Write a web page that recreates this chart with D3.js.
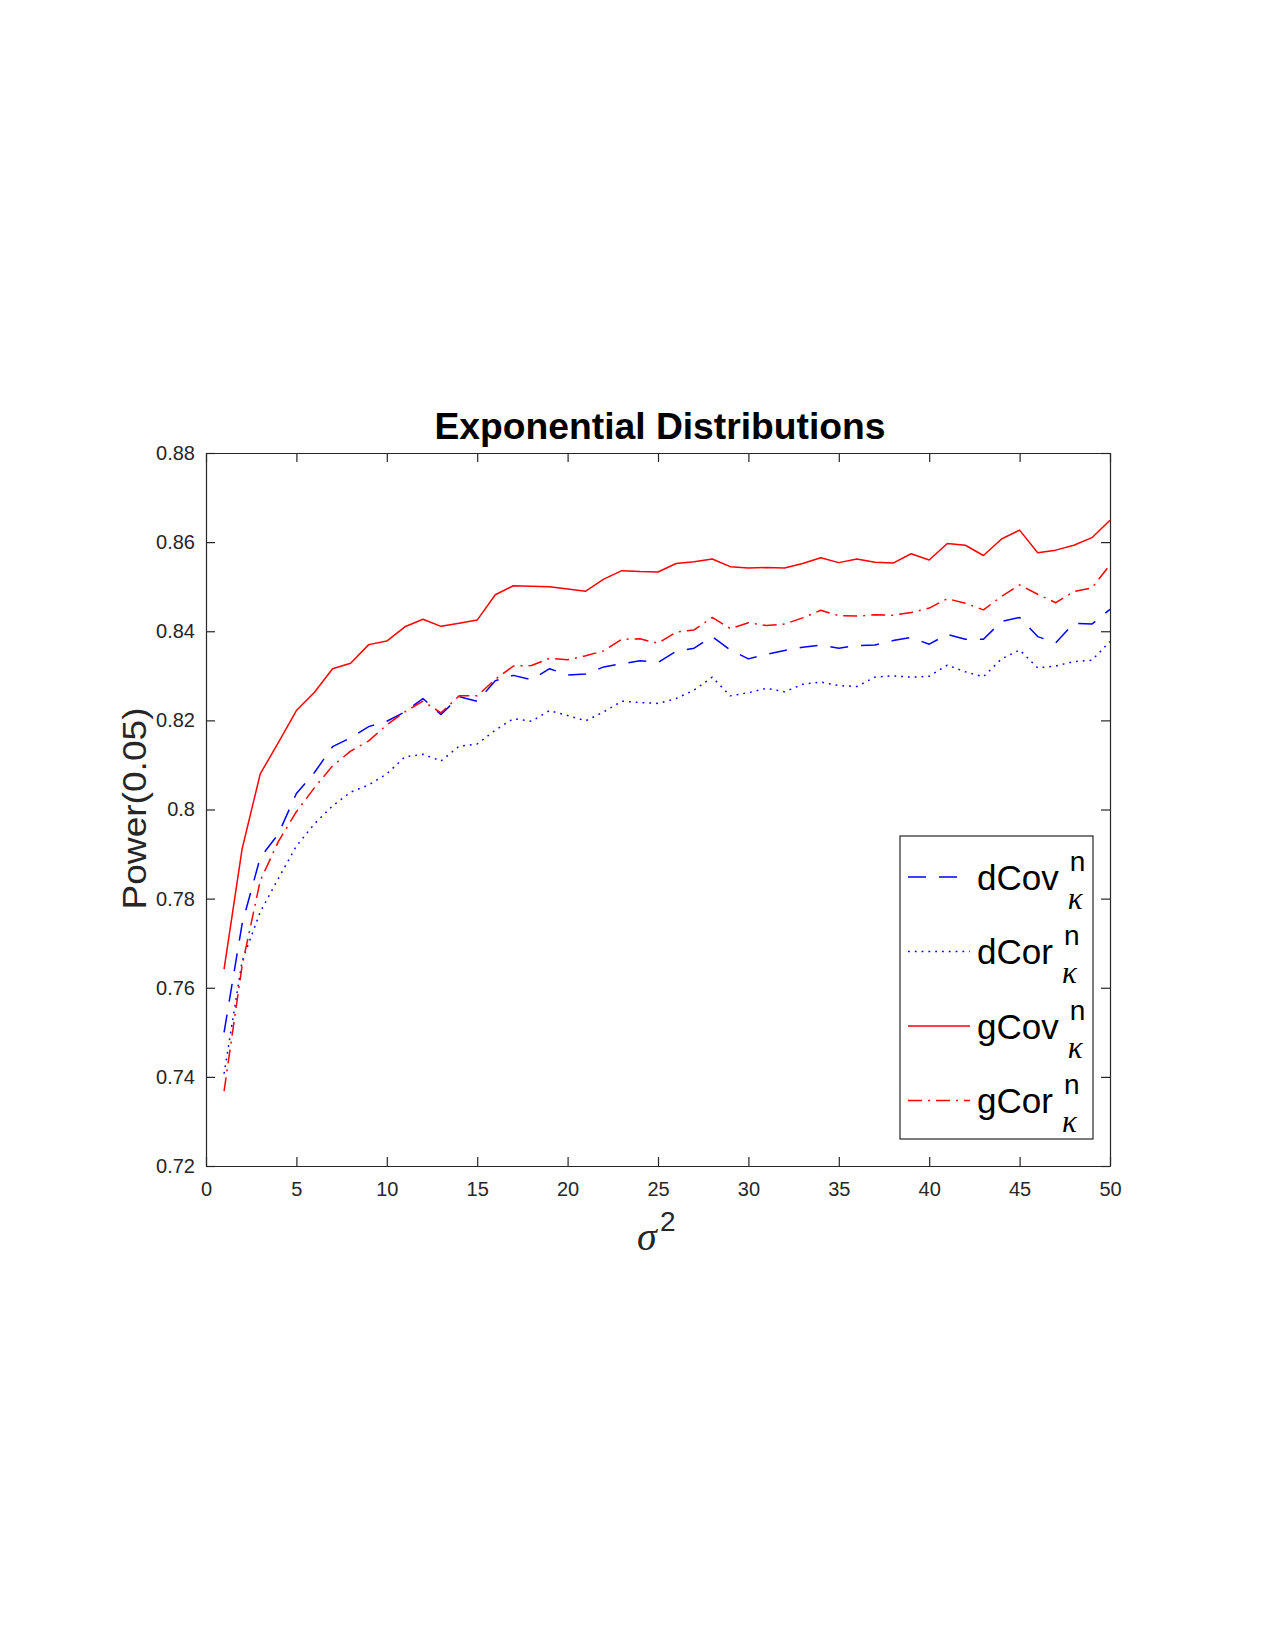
<!DOCTYPE html>
<html>
<head>
<meta charset="utf-8">
<script src="https://cdn.jsdelivr.net/npm/d3@7"></script>
<style>
  html, body { margin: 0; padding: 0; background: #fff; }
  svg { display: block; }
  text { font-family: "Liberation Sans", Arial, Helvetica, sans-serif; }
</style>
</head>
<body>
<svg id="chart" width="1275" height="1650"></svg>
<script>
// ---------------- DATA ----------------
const sigma2 = d3.range(1, 51);
const dCov = [0.7500,0.7744,0.7892,0.7945,0.8036,0.8083,0.8141,0.8161,0.8186,0.8198,
              0.8219,0.8249,0.8213,0.8253,0.8243,0.8289,0.8301,0.8291,0.8316,0.8302,
              0.8304,0.8320,0.8327,0.8334,0.8330,0.8355,0.8362,0.8388,0.8358,0.8338,
              0.8348,0.8357,0.8364,0.8369,0.8362,0.8368,0.8369,0.8379,0.8386,0.8371,
              0.8393,0.8382,0.8382,0.8422,0.8431,0.8388,0.8374,0.8418,0.8416,0.8449];
const dCor = [0.7407,0.7660,0.7770,0.7845,0.7918,0.7968,0.8008,0.8039,0.8055,0.8080,
              0.8118,0.8124,0.8109,0.8142,0.8147,0.8178,0.8204,0.8198,0.8222,0.8211,
              0.8199,0.8219,0.8243,0.8240,0.8238,0.8249,0.8268,0.8297,0.8255,0.8262,
              0.8272,0.8264,0.8281,0.8286,0.8278,0.8276,0.8297,0.8300,0.8297,0.8299,
              0.8324,0.8309,0.8298,0.8338,0.8358,0.8318,0.8322,0.8332,0.8335,0.8377];
const gCov = [0.7642,0.7912,0.8080,0.8150,0.8222,0.8263,0.8316,0.8328,0.8370,0.8378,
              0.8410,0.8427,0.8411,0.8418,0.8425,0.8482,0.8502,0.8501,0.8500,0.8495,
              0.8490,0.8517,0.8536,0.8534,0.8533,0.8552,0.8556,0.8562,0.8545,0.8542,
              0.8543,0.8542,0.8552,0.8565,0.8554,0.8562,0.8555,0.8553,0.8574,0.8560,
              0.8597,0.8593,0.8570,0.8607,0.8627,0.8576,0.8582,0.8593,0.8610,0.8649];
const gCor = [0.7368,0.7650,0.7840,0.7928,0.7995,0.8049,0.8098,0.8131,0.8154,0.8190,
              0.8219,0.8243,0.8217,0.8255,0.8255,0.8292,0.8322,0.8323,0.8339,0.8336,
              0.8345,0.8356,0.8382,0.8383,0.8373,0.8398,0.8403,0.8431,0.8406,0.8419,
              0.8413,0.8416,0.8430,0.8447,0.8435,0.8434,0.8437,0.8436,0.8442,0.8452,
              0.8473,0.8463,0.8448,0.8478,0.8504,0.8483,0.8464,0.8489,0.8497,0.8549];
const seriesNames = ["dCov", "dCor", "gCov", "gCor"];
const xTicks = [0,5,10,15,20,25,30,35,40,45,50];
const yTicks = [0.72,0.74,0.76,0.78,0.80,0.82,0.84,0.86,0.88];
const yTickLabels = ["0.72","0.74","0.76","0.78","0.8","0.82","0.84","0.86","0.88"];
const titleText = "Exponential Distributions";
const yLabelText = "Power(0.05)";

// ---------------- STYLE / LAYOUT ----------------
const seriesValues = [dCov, dCor, gCov, gCor];
const seriesColor = ["#0000ff", "#0000ff", "#ff0000", "#ff0000"];
const seriesDash = ["18,13", "1.8,5", null, "14,6,2,6"];
const axisColor = "#262626";

const L = 206, R = 1110, T = 453, B = 1166;
const svg = d3.select("#chart");

const x = d3.scaleLinear().domain([0, 50]).range([L, R]);
const y = d3.scaleLinear().domain([0.72, 0.88]).range([B, T]);

// ---------------- AXES ----------------
function styleAxis(g) {
  g.selectAll("path.domain").attr("stroke", axisColor).attr("stroke-width", 1.2);
  g.selectAll(".tick line").attr("stroke", axisColor).attr("stroke-width", 1.2);
  g.selectAll("text").attr("fill", axisColor)
    .style("font-family", '"Liberation Sans", Arial, sans-serif')
    .style("font-size", "20px");
}

svg.append("g").attr("transform", `translate(0,${B})`)
  .call(d3.axisBottom(x).tickValues(xTicks).tickFormat(d3.format("d"))
        .tickSizeInner(-9).tickSizeOuter(0).tickPadding(16))
  .call(styleAxis);

svg.append("g").attr("transform", `translate(0,${T})`)
  .call(d3.axisTop(x).tickValues(xTicks).tickFormat("")
        .tickSizeInner(-9).tickSizeOuter(0))
  .call(styleAxis);

svg.append("g").attr("transform", `translate(${L},0)`)
  .call(d3.axisLeft(y).tickValues(yTicks).tickFormat((d, i) => yTickLabels[i])
        .tickSizeInner(-9).tickSizeOuter(0).tickPadding(11))
  .call(styleAxis);

svg.append("g").attr("transform", `translate(${R},0)`)
  .call(d3.axisRight(y).tickValues(yTicks).tickFormat("")
        .tickSizeInner(-9).tickSizeOuter(0))
  .call(styleAxis);

// ---------------- LINES ----------------
const line = d3.line().x((d, i) => x(sigma2[i])).y(d => y(d));
seriesValues.forEach((vals, k) => {
  svg.append("path")
    .datum(vals)
    .attr("d", line)
    .attr("fill", "none")
    .attr("stroke", seriesColor[k])
    .attr("stroke-width", 1.5)
    .attr("stroke-dasharray", seriesDash[k])
    .attr("stroke-linejoin", "round");
});

// ---------------- TITLE & LABELS ----------------
svg.append("text")
  .attr("x", (L + R) / 2 + 2).attr("y", 439)
  .attr("text-anchor", "middle")
  .style("font-weight", "bold").style("font-size", "37px")
  .attr("textLength", 451).attr("lengthAdjust", "spacingAndGlyphs")
  .attr("fill", "#000")
  .text(titleText);

svg.append("text")
  .attr("transform", `translate(146,${(T + B) / 2 - 1}) rotate(-90)`)
  .attr("text-anchor", "middle")
  .style("font-size", "34px")
  .attr("textLength", 202).attr("lengthAdjust", "spacingAndGlyphs")
  .attr("fill", axisColor)
  .text(yLabelText);

// x label: sigma^2
svg.append("text")
  .attr("x", 637).attr("y", 1250)
  .style("font-family", '"Liberation Serif", "DejaVu Serif", serif')
  .style("font-style", "italic").style("font-size", "40px")
  .attr("fill", axisColor)
  .text("σ");
svg.append("text")
  .attr("x", 660).attr("y", 1231)
  .style("font-size", "28px")
  .attr("fill", axisColor)
  .text("2");

// ---------------- LEGEND ----------------
const legend = svg.append("g");
legend.append("rect")
  .attr("x", 900).attr("y", 836).attr("width", 193).attr("height", 303)
  .attr("fill", "#fff").attr("stroke", axisColor).attr("stroke-width", 1.2);

seriesNames.forEach((name, k) => {
  const base = 889.5 + k * 74.5;
  legend.append("line")
    .attr("x1", 908).attr("x2", 970)
    .attr("y1", base - 12.5).attr("y2", base - 12.5)
    .attr("stroke", seriesColor[k]).attr("stroke-width", 1.5)
    .attr("stroke-dasharray", seriesDash[k]);
  const t = legend.append("text")
    .attr("x", 977).attr("y", base)
    .style("font-size", "35px")
    .attr("fill", "#000")
    .text(name);
  const w = t.node().getComputedTextLength();
  legend.append("text")
    .attr("x", 977 + w + 11).attr("y", base - 19)
    .style("font-size", "28px")
    .attr("fill", "#000")
    .text("n");
  legend.append("text")
    .attr("x", 977 + w + 9).attr("y", base + 19)
    .style("font-family", '"Liberation Serif", "DejaVu Serif", serif')
    .style("font-style", "italic").style("font-size", "31px")
    .attr("fill", "#000")
    .text("κ");
});
</script>
</body>
</html>
